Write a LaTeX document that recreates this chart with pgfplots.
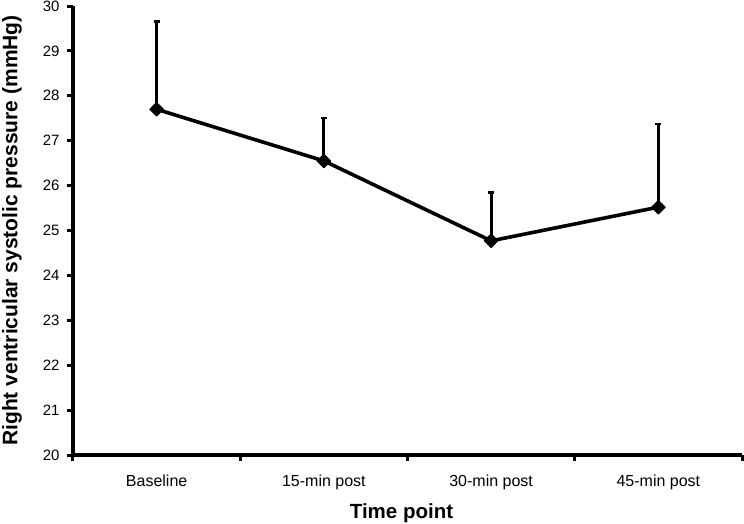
\documentclass[border=0pt]{standalone}
\usepackage{fontspec}
\setmainfont{Liberation Sans}
\usepackage{pgfplots}
\pgfplotsset{compat=1.18}
\begin{document}
\begin{tikzpicture}
\begin{axis}[
    name=ax,
    scale only axis,
    width=669pt, height=449pt,
    xmin=0, xmax=4,
    ymin=20, ymax=30,
    axis lines*=left,
    axis line style={line width=3.6pt, black},
    tick align=outside,
    major tick length=6pt,
    minor tick length=6pt,
    ytick={20,21,...,30},
    y tick style={line width=3pt, black},
    xtick={0.5,1.5,2.5,3.5},
    xticklabels={Baseline, 15-min post, 30-min post, 45-min post},
    major x tick style={draw=none},
    minor xtick={0,1,2,3,4},
    minor x tick style={line width=3pt, black},
    /pgf/number format/assume math mode=true,
    yticklabel style={font=\fontsize{15}{18}\selectfont, xshift=-4pt},
    xticklabel style={font=\fontsize{16}{19}\selectfont, yshift=-10pt},
    ylabel={Right ventricular systolic pressure (mmHg)},
    xlabel={Time point},
    ylabel style={at={(axis description cs:-0.0912,0.5)}, anchor=center,
                  font=\fontsize{21}{24}\selectfont\bfseries},
    xlabel style={at={(axis description cs:0.491,-0.1403)}, anchor=base,
                  font=\fontsize{20.5}{24}\selectfont\bfseries},
]
\addplot[black, line width=3.6pt, line join=round,
    mark=square*, mark size=4.8pt, mark options={rotate=45, solid, line width=1pt},
    error bars/.cd, y dir=plus, y explicit,
    error bar style={line width=2.8pt, black},
    error mark options={line width=2.5pt, mark size=3pt, rotate=90, black}]
coordinates {
    (0.5,27.70) +- (0,1.95)
    (1.5,26.55) +- (0,0.96)
    (2.5,24.77) +- (0,1.08)
    (3.5,25.52) +- (0,1.85)
};
\end{axis}
\pgfresetboundingbox
\path (ax.south west) ++(-73pt,-68pt) (ax.north east) ++(2pt,6pt);
\end{tikzpicture}
\end{document}
